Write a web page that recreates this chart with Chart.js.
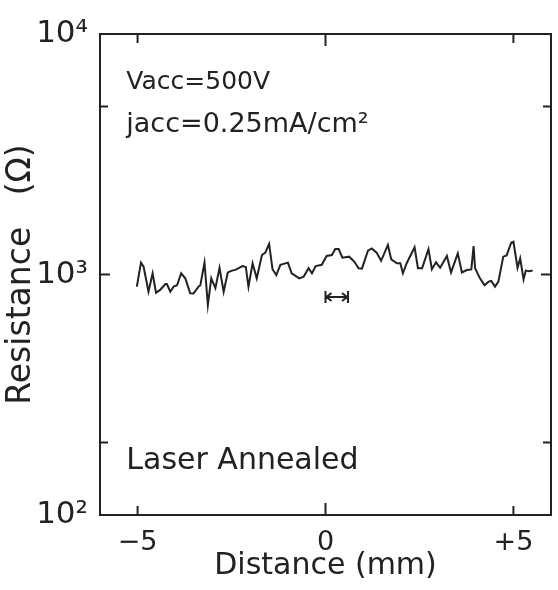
<!DOCTYPE html>
<html>
<head>
<meta charset="utf-8">
<script src="https://cdn.jsdelivr.net/npm/chart.js@4/dist/chart.umd.min.js"></script>
<style>
html,body{margin:0;padding:0;background:#fff;}
#wrap{width:558px;height:590px;}
</style>
</head>
<body>
<div id="wrap"><canvas id="c" width="558" height="590"></canvas></div>
<script>
// Data
const distance = [-5.02,-4.91,-4.84,-4.71,-4.60,-4.51,-4.40,-4.26,-4.22,-4.13,-4.04,-3.95,-3.84,-3.73,-3.60,-3.51,-3.38,-3.33,-3.22,-3.13,-3.04,-2.93,-2.82,-2.71,-2.60,-2.49,-2.40,-2.31,-2.21,-2.12,-2.05,-1.94,-1.83,-1.69,-1.60,-1.50,-1.41,-1.31,-1.20,-1.00,-0.90,-0.70,-0.58,-0.45,-0.36,-0.26,-0.10,0.03,0.17,0.26,0.35,0.45,0.63,0.77,0.88,0.97,1.13,1.23,1.36,1.48,1.66,1.75,1.90,1.99,2.06,2.16,2.37,2.46,2.57,2.74,2.83,2.94,3.05,3.23,3.34,3.52,3.63,3.76,3.88,3.94,3.98,4.11,4.23,4.34,4.41,4.51,4.60,4.73,4.82,4.94,5.00,5.11,5.18,5.27,5.33,5.42,5.51];
const resistance = [890,1120,1077,848,1012,840,863,913,913,848,890,902,1012,964,835,833,890,902,1120,746,964,877,1066,848,1020,1038,1045,1062,1084,1075,890,1114,964,1205,1233,1340,1052,995,1097,1120,1012,964,980,1062,1012,1084,1097,1194,1205,1276,1276,1175,1186,1129,1062,1058,1256,1284,1233,1140,1327,1156,1114,1114,1012,1114,1297,1062,1062,1276,1052,1124,1067,1194,1020,1224,1020,1044,1050,1313,1062,964,903,934,940,890,934,1186,1200,1355,1368,1067,1167,955,1038,1032,1038];
const resolutionBar = {from: 0.0, to: 0.6, level: 806};
const xTicks = [-5, 0, 5];
const yTicks = [100, 200, 1000, 5000, 10000];
const yLabels = {100: '10\u00B2', 1000: '10\u00B3', 10000: '10\u2074'};
const xRange = [-6, 6];
const yRange = [100, 10000];
const notes = [
  {text: 'Vacc=500V', x: -5.3, y: 6300, size: 25},
  {text: 'jacc=0.25mA/cm\u00B2', x: -5.3, y: 4200, size: 27},
  {text: 'Laser Annealed', x: -5.3, y: 167, size: 30}
];

const FONT = '"DejaVu Sans", sans-serif';
const points = distance.map((d, i) => ({x: d, y: resistance[i]}));

const framePlugin = {
  id: 'frame',
  afterDraw(chart) {
    const {ctx, chartArea: a, scales} = chart;
    const xs = scales.x, ys = scales.y;
    ctx.save();
    ctx.strokeStyle = '#222';
    ctx.lineWidth = 2;
    ctx.strokeRect(a.left, a.top, a.right - a.left, a.bottom - a.top);
    ctx.beginPath();
    xTicks.forEach(v => {
      const px = xs.getPixelForValue(v);
      const len = v === 0 ? 12 : 9;
      ctx.moveTo(px, a.bottom); ctx.lineTo(px, a.bottom - len);
      ctx.moveTo(px, a.top); ctx.lineTo(px, a.top + len);
    });
    yTicks.forEach(v => {
      const py = ys.getPixelForValue(v);
      const len = yLabels[v] ? 10 : 8;
      ctx.moveTo(a.left, py); ctx.lineTo(a.left + len, py);
      ctx.moveTo(a.right, py); ctx.lineTo(a.right - len, py);
    });
    ctx.stroke();
    // resolution marker
    const x1 = xs.getPixelForValue(resolutionBar.from);
    const x2 = xs.getPixelForValue(resolutionBar.to);
    const yb = ys.getPixelForValue(resolutionBar.level);
    ctx.lineWidth = 2;
    ctx.beginPath();
    ctx.moveTo(x1, yb - 6); ctx.lineTo(x1, yb + 6);
    ctx.moveTo(x2, yb - 6); ctx.lineTo(x2, yb + 6);
    ctx.moveTo(x1, yb); ctx.lineTo(x2, yb);
    ctx.moveTo(x1 + 6, yb - 4); ctx.lineTo(x1 + 1, yb); ctx.lineTo(x1 + 6, yb + 4);
    ctx.moveTo(x2 - 6, yb - 4); ctx.lineTo(x2 - 1, yb); ctx.lineTo(x2 - 6, yb + 4);
    ctx.stroke();
    // notes
    ctx.fillStyle = '#222';
    ctx.textBaseline = 'middle';
    ctx.textAlign = 'left';
    notes.forEach(n => {
      ctx.font = n.size + 'px ' + FONT;
      ctx.fillText(n.text, xs.getPixelForValue(n.x), ys.getPixelForValue(n.y));
    });
    ctx.restore();
  }
};

new Chart(document.getElementById('c'), {
  type: 'line',
  data: {
    datasets: [{
      data: points,
      borderColor: '#222',
      borderWidth: 2,
      pointRadius: 0,
      tension: 0,
      fill: false
    }]
  },
  options: {
    responsive: false,
    animation: false,
    devicePixelRatio: 1,
    layout: {padding: {top: 34, right: 7, left: 0, bottom: 0}},
    plugins: {legend: {display: false}, tooltip: {enabled: false}},
    scales: {
      x: {
        type: 'linear',
        min: xRange[0], max: xRange[1],
        afterBuildTicks: s => { s.ticks = xTicks.map(v => ({value: v})); },
        afterFit: s => { s.height = 75; },
        grid: {display: false},
        border: {display: false},
        ticks: {
          color: '#222',
          font: {family: FONT, size: 27},
          padding: 4,
          maxRotation: 0,
          autoSkip: false,
          callback: v => v > 0 ? '+' + v : (v < 0 ? '\u2212' + Math.abs(v) : '' + v)
        },
        title: {display: true, text: 'Distance (mm)', color: '#222',
                font: {family: FONT, size: 30}, padding: {top: 0, bottom: 6}}
      },
      y: {
        type: 'logarithmic',
        min: yRange[0], max: yRange[1],
        afterBuildTicks: s => { s.ticks = yTicks.map(v => ({value: v})); },
        afterFit: s => { s.width = 100; },
        grid: {display: false},
        border: {display: false},
        ticks: {
          color: '#222',
          font: {family: FONT, size: 31},
          padding: 4,
          autoSkip: false,
          callback: v => yLabels[v] || ''
        },
        title: {display: true, text: 'Resistance   (\u03A9)', color: '#222',
                font: {family: FONT, size: 33}, padding: {top: 2, bottom: 0}}
      }
    }
  },
  plugins: [framePlugin]
});
</script>
</body>
</html>
